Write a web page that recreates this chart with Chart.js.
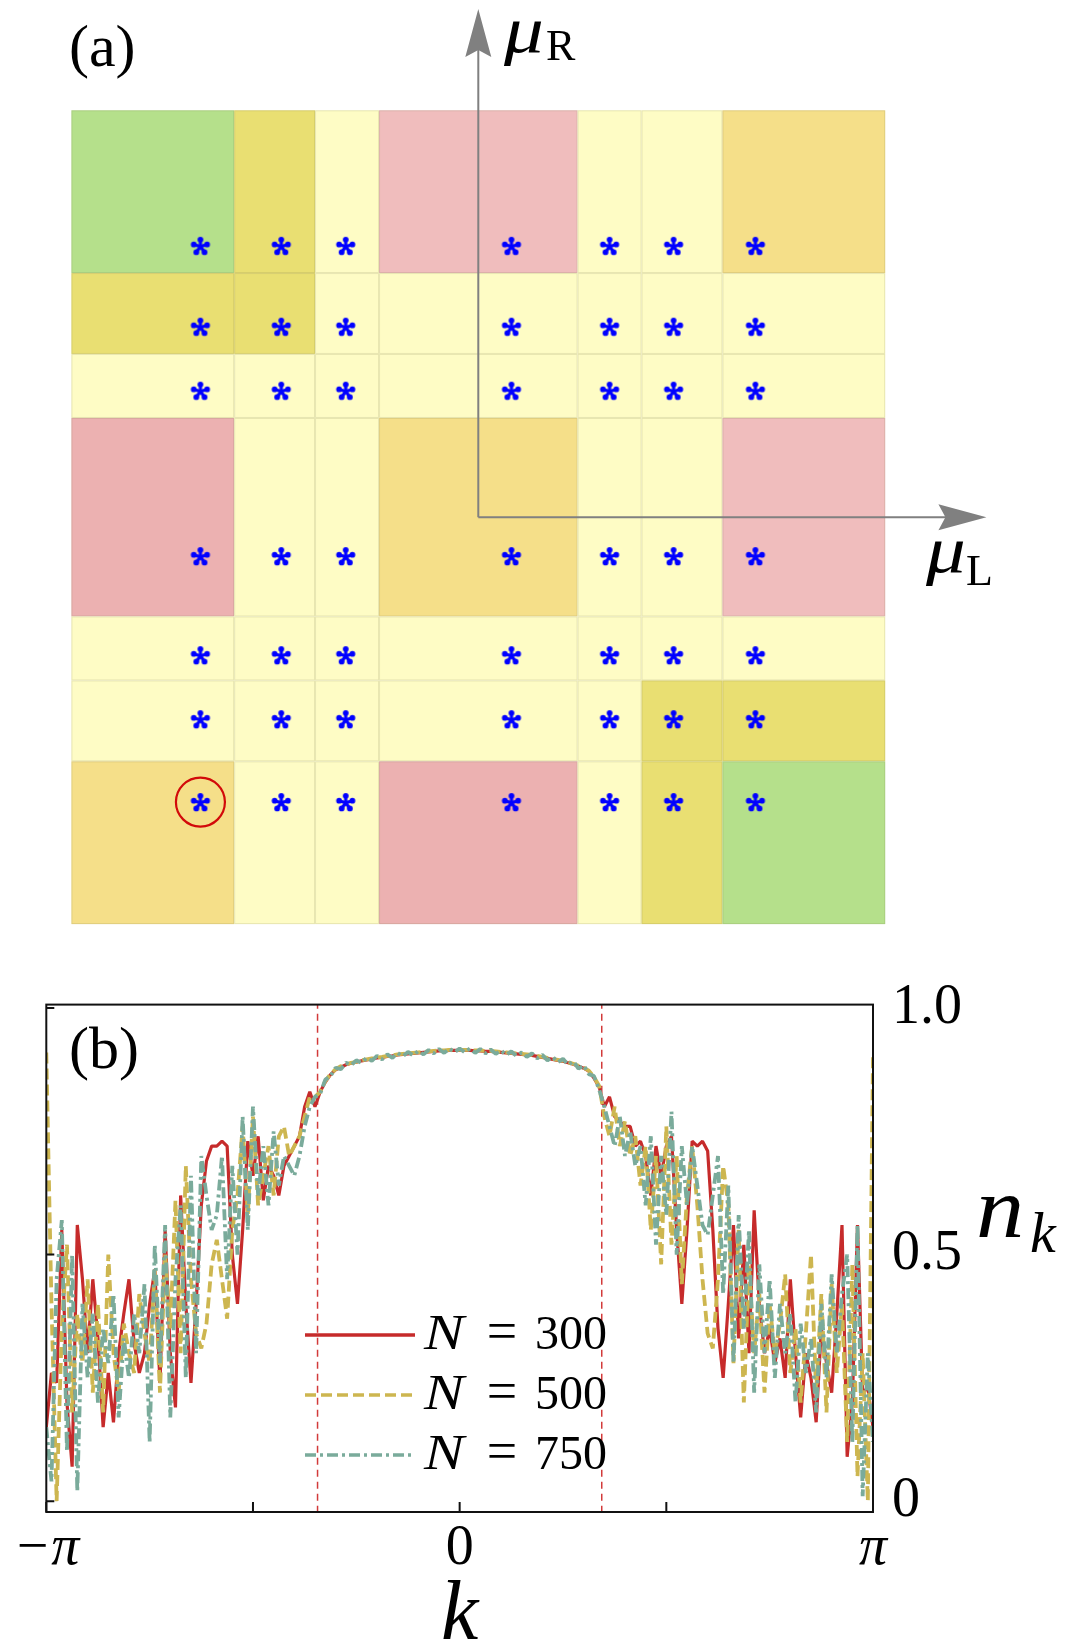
<!DOCTYPE html>
<html>
<head>
<meta charset="utf-8">
<script src="https://cdn.jsdelivr.net/npm/chart.js@4.4.1/dist/chart.umd.min.js"></script>
<style>
  html, body { margin: 0; padding: 0; background: #fff; }
  #wrap { position: relative; width: 1068px; height: 1646px; }
  canvas { position: absolute; left: 0; }
  #phaseMap { top: 0; }
  #nkChart { top: 960px; }
</style>
</head>
<body>
<div id="wrap">
  <canvas id="phaseMap" width="1068" height="960"></canvas>
  <canvas id="nkChart" width="1068" height="686"></canvas>
</div>
<script>
// ---- panel (a): phase map in the (muL, muR) plane ----
const muBounds = [-4.1, -2.46, -1.645, -1.0, 1.0, 1.645, 2.46, 4.1];
// rows from top (large muR) to bottom, columns from left (small muL) to right
const phaseRows = [
  ['G', 'O', 'L', 'P', 'L', 'L', 'A'],
  ['O', 'O', 'L', 'L', 'L', 'L', 'L'],
  ['L', 'L', 'L', 'L', 'L', 'L', 'L'],
  ['Q', 'L', 'L', 'A', 'L', 'L', 'P'],
  ['L', 'L', 'L', 'L', 'L', 'L', 'L'],
  ['L', 'L', 'L', 'L', 'L', 'O', 'O'],
  ['A', 'L', 'L', 'Q', 'L', 'O', 'G']
];
const muLStar = [-2.80, -1.985, -1.336, 0.334, 1.323, 1.968, 2.792];
const muRStar = [2.735, 1.92, 1.275, -0.392, -1.39, -2.035, -2.87];
const circled = { x: -2.80, y: -2.87 };

// ---- panel (b): momentum distribution n_k ----
const kTicks = [-Math.PI, -Math.PI / 2, 0, Math.PI / 2, Math.PI];
const kTickLabels = ['\u2212\u03c0', '', '0', '', '\u03c0'];
const nTicks = [0, 0.5, 1.0];
const nTickLabels = ['0', '0.5', '1.0'];
const kF = [-1.08, 1.08];
const sizes = ['300', '500', '750'];

const n300 = [
  0.15, 0.26, 0.24, 0.55, 0.20, 0.07, 0.56, 0.45, 0.30, 0.45,
  0.33, 0.15, 0.26, 0.16, 0.30, 0.38, 0.45, 0.32, 0.26, 0.30,
  0.40, 0.47, 0.24, 0.55, 0.30, 0.19, 0.62, 0.40, 0.24, 0.40,
  0.60, 0.69, 0.72, 0.72, 0.73, 0.72, 0.50, 0.40, 0.55, 0.73,
  0.66, 0.74, 0.61, 0.68, 0.66, 0.62, 0.68, 0.70, 0.72, 0.74,
  0.80, 0.83, 0.80,
  0.83, 0.85, 0.865, 0.875, 0.88, 0.885, 0.888, 0.89, 0.893, 0.895,
  0.897, 0.899, 0.90, 0.902, 0.903, 0.905, 0.906, 0.907, 0.908, 0.909,
  0.910, 0.911, 0.912, 0.913, 0.913, 0.914, 0.914, 0.914, 0.914, 0.914,
  0.913, 0.913, 0.912, 0.912, 0.911, 0.910, 0.909, 0.908, 0.907, 0.906,
  0.905, 0.904, 0.902, 0.900, 0.898, 0.896, 0.894, 0.892, 0.889, 0.886,
  0.882, 0.878, 0.872, 0.858, 0.84,
  0.80, 0.82, 0.78, 0.77, 0.76, 0.76, 0.72, 0.73, 0.70, 0.62,
  0.72, 0.66, 0.72, 0.74, 0.55, 0.40, 0.55, 0.73, 0.72, 0.73,
  0.71, 0.55, 0.35, 0.25, 0.40, 0.56, 0.33, 0.52, 0.30, 0.59,
  0.40, 0.30, 0.35, 0.28, 0.33, 0.25, 0.45, 0.30, 0.17, 0.30,
  0.25, 0.16, 0.35, 0.28, 0.22, 0.38, 0.56, 0.09, 0.20, 0.56,
  0.22, 0.23, 0.15
];
const n500 = [
  0.91, 0.40, 0.00, 0.35, 0.52, 0.18, 0.38, 0.28, 0.45, 0.22,
  0.40, 0.18, 0.50, 0.30, 0.22, 0.36, 0.30, 0.26, 0.42, 0.34,
  0.28, 0.47, 0.22, 0.50, 0.35, 0.61, 0.30, 0.68, 0.45, 0.34,
  0.31, 0.36, 0.48, 0.53, 0.45, 0.37, 0.55, 0.62, 0.76, 0.58,
  0.78, 0.60, 0.66, 0.72, 0.62, 0.74, 0.76, 0.70, 0.72, 0.74,
  0.78, 0.82, 0.82,
  0.83, 0.852, 0.866, 0.876, 0.882, 0.886, 0.889, 0.891, 0.894, 0.896,
  0.898, 0.900, 0.901, 0.903, 0.904, 0.906, 0.907, 0.908, 0.909, 0.910,
  0.911, 0.912, 0.913, 0.914, 0.914, 0.915, 0.915, 0.915, 0.915, 0.915,
  0.914, 0.914, 0.913, 0.913, 0.912, 0.911, 0.910, 0.909, 0.908, 0.907,
  0.906, 0.905, 0.903, 0.901, 0.899, 0.897, 0.895, 0.893, 0.890, 0.887,
  0.883, 0.879, 0.873, 0.860, 0.842,
  0.78, 0.74, 0.80, 0.72, 0.77, 0.70, 0.74, 0.64, 0.72, 0.55,
  0.70, 0.48, 0.76, 0.52, 0.70, 0.44, 0.62, 0.72, 0.60, 0.45,
  0.34, 0.31, 0.45, 0.68, 0.60, 0.28, 0.55, 0.20, 0.48, 0.30,
  0.42, 0.22, 0.40, 0.30, 0.36, 0.46, 0.26, 0.35, 0.20, 0.34,
  0.50, 0.22, 0.42, 0.18, 0.44, 0.26, 0.40, 0.12, 0.48, 0.05,
  0.30, 0.00, 0.90
];
const n750 = [
  0.15, 0.04, 0.45, 0.57, 0.10, 0.50, 0.02, 0.40, 0.25, 0.38,
  0.20, 0.35, 0.28, 0.42, 0.17, 0.33, 0.25, 0.38, 0.30, 0.44,
  0.12, 0.52, 0.28, 0.56, 0.17, 0.45, 0.60, 0.25, 0.66, 0.30,
  0.70, 0.62, 0.55, 0.58, 0.70, 0.45, 0.68, 0.50, 0.78, 0.55,
  0.80, 0.62, 0.72, 0.60, 0.75, 0.64, 0.70, 0.68, 0.66, 0.70,
  0.76, 0.80, 0.82,
  0.826, 0.855, 0.862, 0.879, 0.876, 0.889, 0.884, 0.894, 0.889, 0.899,
  0.893, 0.903, 0.896, 0.906, 0.899, 0.909, 0.902, 0.911, 0.904, 0.913,
  0.906, 0.915, 0.908, 0.917, 0.909, 0.918, 0.910, 0.918, 0.910, 0.918,
  0.909, 0.917, 0.908, 0.916, 0.907, 0.914, 0.905, 0.912, 0.903, 0.910,
  0.901, 0.908, 0.898, 0.905, 0.894, 0.901, 0.890, 0.897, 0.885, 0.892,
  0.877, 0.884, 0.866, 0.862, 0.835,
  0.80, 0.76, 0.72, 0.78, 0.70, 0.75, 0.68, 0.72, 0.60, 0.74,
  0.52, 0.70, 0.58, 0.79, 0.50, 0.72, 0.60, 0.72, 0.64, 0.56,
  0.54, 0.62, 0.70, 0.42, 0.64, 0.28, 0.58, 0.35, 0.55, 0.22,
  0.48, 0.30, 0.45, 0.25, 0.40, 0.30, 0.38, 0.20, 0.36, 0.26,
  0.33, 0.18, 0.40, 0.25, 0.46, 0.30, 0.42, 0.50, 0.12, 0.56,
  0.01, 0.30, 0.12
];

const SERIF = "'Liberation Serif', 'DejaVu Serif', serif";
const phaseColors = {
  G: '#b5e08b', O: '#e9df72', L: '#fefcc5',
  P: '#f0bdbd', Q: '#ecb1b1', A: '#f5df89'
};

// blue asterisk marker
function makeAsterisk() {
  const c = document.createElement('canvas');
  c.width = 28; c.height = 28;
  const g = c.getContext('2d');
  g.strokeStyle = '#0000ff';
  g.fillStyle = '#0000ff';
  g.lineCap = 'round';
  const cx = 14, cy = 14.8;
  for (let a = 0; a < 5; a++) {
    const t = -Math.PI / 2 + a * 2 * Math.PI / 5;
    g.lineWidth = 3.2;
    g.beginPath();
    g.moveTo(cx, cy);
    g.lineTo(cx + 6.8 * Math.cos(t), cy + 6.8 * Math.sin(t));
    g.stroke();
    g.beginPath();
    g.arc(cx + 7 * Math.cos(t), cy + 7 * Math.sin(t), 2.9, 0, 2 * Math.PI);
    g.fill();
  }
  return c;
}

function arrowHead(ctx, tx, ty, dx, dy) {
  const len = 48, half = 13, notch = 7;
  const bx = tx - dx * len, by = ty - dy * len;
  const px = -dy, py = dx;
  ctx.beginPath();
  ctx.moveTo(tx, ty);
  ctx.lineTo(bx + px * half, by + py * half);
  ctx.lineTo(bx + dx * notch, by + dy * notch);
  ctx.lineTo(bx - px * half, by - py * half);
  ctx.closePath();
  ctx.fill();
}

// text widened a little to get closer to the math font of the original
function wideText(ctx, txt, x, y, sx) {
  ctx.save();
  ctx.translate(x, y);
  ctx.scale(sx, 1);
  ctx.fillText(txt, 0, 0);
  ctx.restore();
}

const phasePlugin = {
  id: 'phaseCells',
  beforeDatasetsDraw(chart) {
    const { ctx, scales: { x, y } } = chart;
    const nb = muBounds.length - 1;
    ctx.save();
    phaseRows.forEach((row, r) => {
      row.forEach((code, c) => {
        const x0 = x.getPixelForValue(muBounds[c]);
        const x1 = x.getPixelForValue(muBounds[c + 1]);
        const y0 = y.getPixelForValue(muBounds[nb - r]);
        const y1 = y.getPixelForValue(muBounds[nb - r - 1]);
        ctx.fillStyle = phaseColors[code];
        ctx.fillRect(x0, y0, x1 - x0, y1 - y0);
        ctx.strokeStyle = 'rgba(110, 110, 70, 0.16)';
        ctx.lineWidth = 1;
        ctx.strokeRect(x0 + 0.5, y0 + 0.5, x1 - x0 - 1, y1 - y0 - 1);
      });
    });

    // muL / muR axes with arrows
    const reach = 5.12;
    const ox = x.getPixelForValue(0), oy = y.getPixelForValue(0);
    const tx = x.getPixelForValue(reach), ty = y.getPixelForValue(reach);
    ctx.strokeStyle = '#808080';
    ctx.fillStyle = '#808080';
    ctx.lineWidth = 2;
    ctx.beginPath();
    ctx.moveTo(ox, oy);
    ctx.lineTo(ox, ty + 40);
    ctx.moveTo(ox, oy);
    ctx.lineTo(tx - 40, oy);
    ctx.stroke();
    arrowHead(ctx, ox, ty, 0, -1);
    arrowHead(ctx, tx, oy, 1, 0);
    ctx.restore();
  },
  afterDraw(chart) {
    const { ctx } = chart;
    ctx.save();
    ctx.fillStyle = '#000';
    ctx.textBaseline = 'alphabetic';
    ctx.font = '60px ' + SERIF;
    ctx.fillText('(a)', 69, 66);
    ctx.font = 'italic 66px ' + SERIF;
    wideText(ctx, '\u03bc', 504, 52, 1.2);
    wideText(ctx, '\u03bc', 926, 572, 1.2);
    ctx.font = '44px ' + SERIF;
    ctx.fillText('R', 546, 60);
    ctx.fillText('L', 966, 585);
    ctx.restore();
  }
};

const starPoints = [];
muRStar.forEach(mr => muLStar.forEach(ml => starPoints.push({ x: ml, y: mr })));

new Chart(document.getElementById('phaseMap'), {
  type: 'scatter',
  data: {
    datasets: [
      {
        data: starPoints,
        pointStyle: makeAsterisk(),
        pointRadius: 10
      },
      {
        data: [circled],
        pointStyle: 'circle',
        pointRadius: 24.5,
        borderColor: '#d20a0a',
        borderWidth: 2.2,
        backgroundColor: 'rgba(0,0,0,0)'
      }
    ]
  },
  options: {
    responsive: false,
    animation: false,
    devicePixelRatio: 1,
    events: [],
    layout: { padding: { left: 71.4, right: 182.8, top: 110.3, bottom: 35.9 } },
    scales: {
      x: { type: 'linear', min: muBounds[0], max: muBounds[muBounds.length - 1], display: false },
      y: { type: 'linear', min: muBounds[0], max: muBounds[muBounds.length - 1], display: false }
    },
    plugins: { legend: { display: false }, tooltip: { enabled: false } }
  },
  plugins: [phasePlugin]
});

// ---- panel (b) ----
const nMin = -0.022, nMax = 1.007;
const kGrid = n300.map((_, i) => -Math.PI + i * 2 * Math.PI / (n300.length - 1));
const toPts = arr => arr.map((v, i) => ({ x: kGrid[i], y: v }));

const framePlugin = {
  id: 'frame',
  afterDatasetsDraw(chart) {
    const { ctx, chartArea: a, scales: { x, y } } = chart;
    ctx.save();
    ctx.strokeStyle = '#111';
    ctx.lineWidth = 2;
    ctx.strokeRect(a.left, a.top, a.right - a.left, a.bottom - a.top);
    ctx.beginPath();
    kTicks.forEach(v => {
      const px = x.getPixelForValue(v);
      ctx.moveTo(px, a.bottom);
      ctx.lineTo(px, a.bottom - 10);
    });
    nTicks.forEach(v => {
      const py = y.getPixelForValue(v);
      ctx.moveTo(a.left, py);
      ctx.lineTo(a.left + 8, py);
    });
    ctx.stroke();

    // legend
    const rows = [375, 435, 495];
    chart.data.datasets.slice(0, 3).forEach((ds, i) => {
      const ly = rows[i];
      ctx.strokeStyle = ds.borderColor;
      ctx.lineWidth = 3.6;
      ctx.setLineDash(ds.borderDash || []);
      ctx.beginPath();
      ctx.moveTo(305, ly);
      ctx.lineTo(415, ly);
      ctx.stroke();
      ctx.setLineDash([]);
      ctx.fillStyle = '#000';
      ctx.textBaseline = 'alphabetic';
      ctx.textAlign = 'left';
      ctx.font = 'italic 50px ' + SERIF;
      wideText(ctx, 'N', 424, ly + 14, 1.2);
      ctx.textAlign = 'center';
      ctx.font = '54px ' + SERIF;
      ctx.fillText('=', 502, ly + 14);
      ctx.textAlign = 'left';
      ctx.font = '48px ' + SERIF;
      ctx.fillText(sizes[i], 535, ly + 14);
    });

    // panel tag and y label
    ctx.fillStyle = '#000';
    ctx.textAlign = 'left';
    ctx.font = '60px ' + SERIF;
    ctx.fillText('(b)', 69, 108);
    ctx.font = 'italic 86px ' + SERIF;
    wideText(ctx, 'n', 976, 277, 1.12);
    ctx.font = 'italic 58px ' + SERIF;
    ctx.fillText('k', 1030, 292);
    ctx.restore();
  }
};

const fermiLine = k => ({
  data: [{ x: k, y: nMin - 0.05 }, { x: k, y: nMax + 0.05 }],
  borderColor: '#d23a3a',
  borderWidth: 1.5,
  borderDash: [7, 5],
  pointRadius: 0,
  order: 4
});

new Chart(document.getElementById('nkChart'), {
  type: 'line',
  data: {
    datasets: [
      { data: toPts(n300), borderColor: '#c62b2b', borderWidth: 3.2, pointRadius: 0, borderJoinStyle: 'bevel', order: 3 },
      { data: toPts(n500), borderColor: '#cdb650', borderWidth: 3.8, borderDash: [11, 5], pointRadius: 0, borderJoinStyle: 'bevel', order: 2 },
      { data: toPts(n750), borderColor: '#7aab9b', borderWidth: 3.8, borderDash: [11, 4, 3, 4], pointRadius: 0, borderJoinStyle: 'bevel', order: 1 },
      fermiLine(kF[0]),
      fermiLine(kF[1])
    ]
  },
  options: {
    responsive: false,
    animation: false,
    devicePixelRatio: 1,
    events: [],
    layout: { padding: { left: 46.3, top: 42.8, right: 0, bottom: 0 } },
    scales: {
      x: {
        type: 'linear',
        min: -Math.PI,
        max: Math.PI,
        grid: { display: false },
        border: { display: false },
        afterBuildTicks: ax => { ax.ticks = kTicks.map(v => ({ value: v })); },
        afterFit: ax => { ax.height = 134; },
        ticks: {
          autoSkip: false,
          maxRotation: 0,
          padding: -4,
          color: '#000',
          font: ctx => ({
            family: SERIF,
            size: 56,
            style: ctx.tick && Math.abs(ctx.tick.value) > 1 ? 'italic' : 'normal'
          }),
          callback: (v, i) => kTickLabels[i]
        },
        title: {
          display: true,
          text: 'k',
          color: '#000',
          font: { family: SERIF, size: 84, style: 'italic' },
          padding: { top: 0, bottom: -21 }
        }
      },
      y: {
        type: 'linear',
        position: 'right',
        min: nMin,
        max: nMax,
        grid: { display: false },
        border: { display: false },
        afterBuildTicks: ax => { ax.ticks = nTicks.map(v => ({ value: v })); },
        afterFit: ax => { ax.width = 195; },
        ticks: {
          padding: 11,
          color: '#000',
          font: { family: SERIF, size: 56 },
          callback: (v, i) => nTickLabels[i]
        }
      }
    },
    plugins: { legend: { display: false }, tooltip: { enabled: false } }
  },
  plugins: [framePlugin]
});
</script>
</body>
</html>
